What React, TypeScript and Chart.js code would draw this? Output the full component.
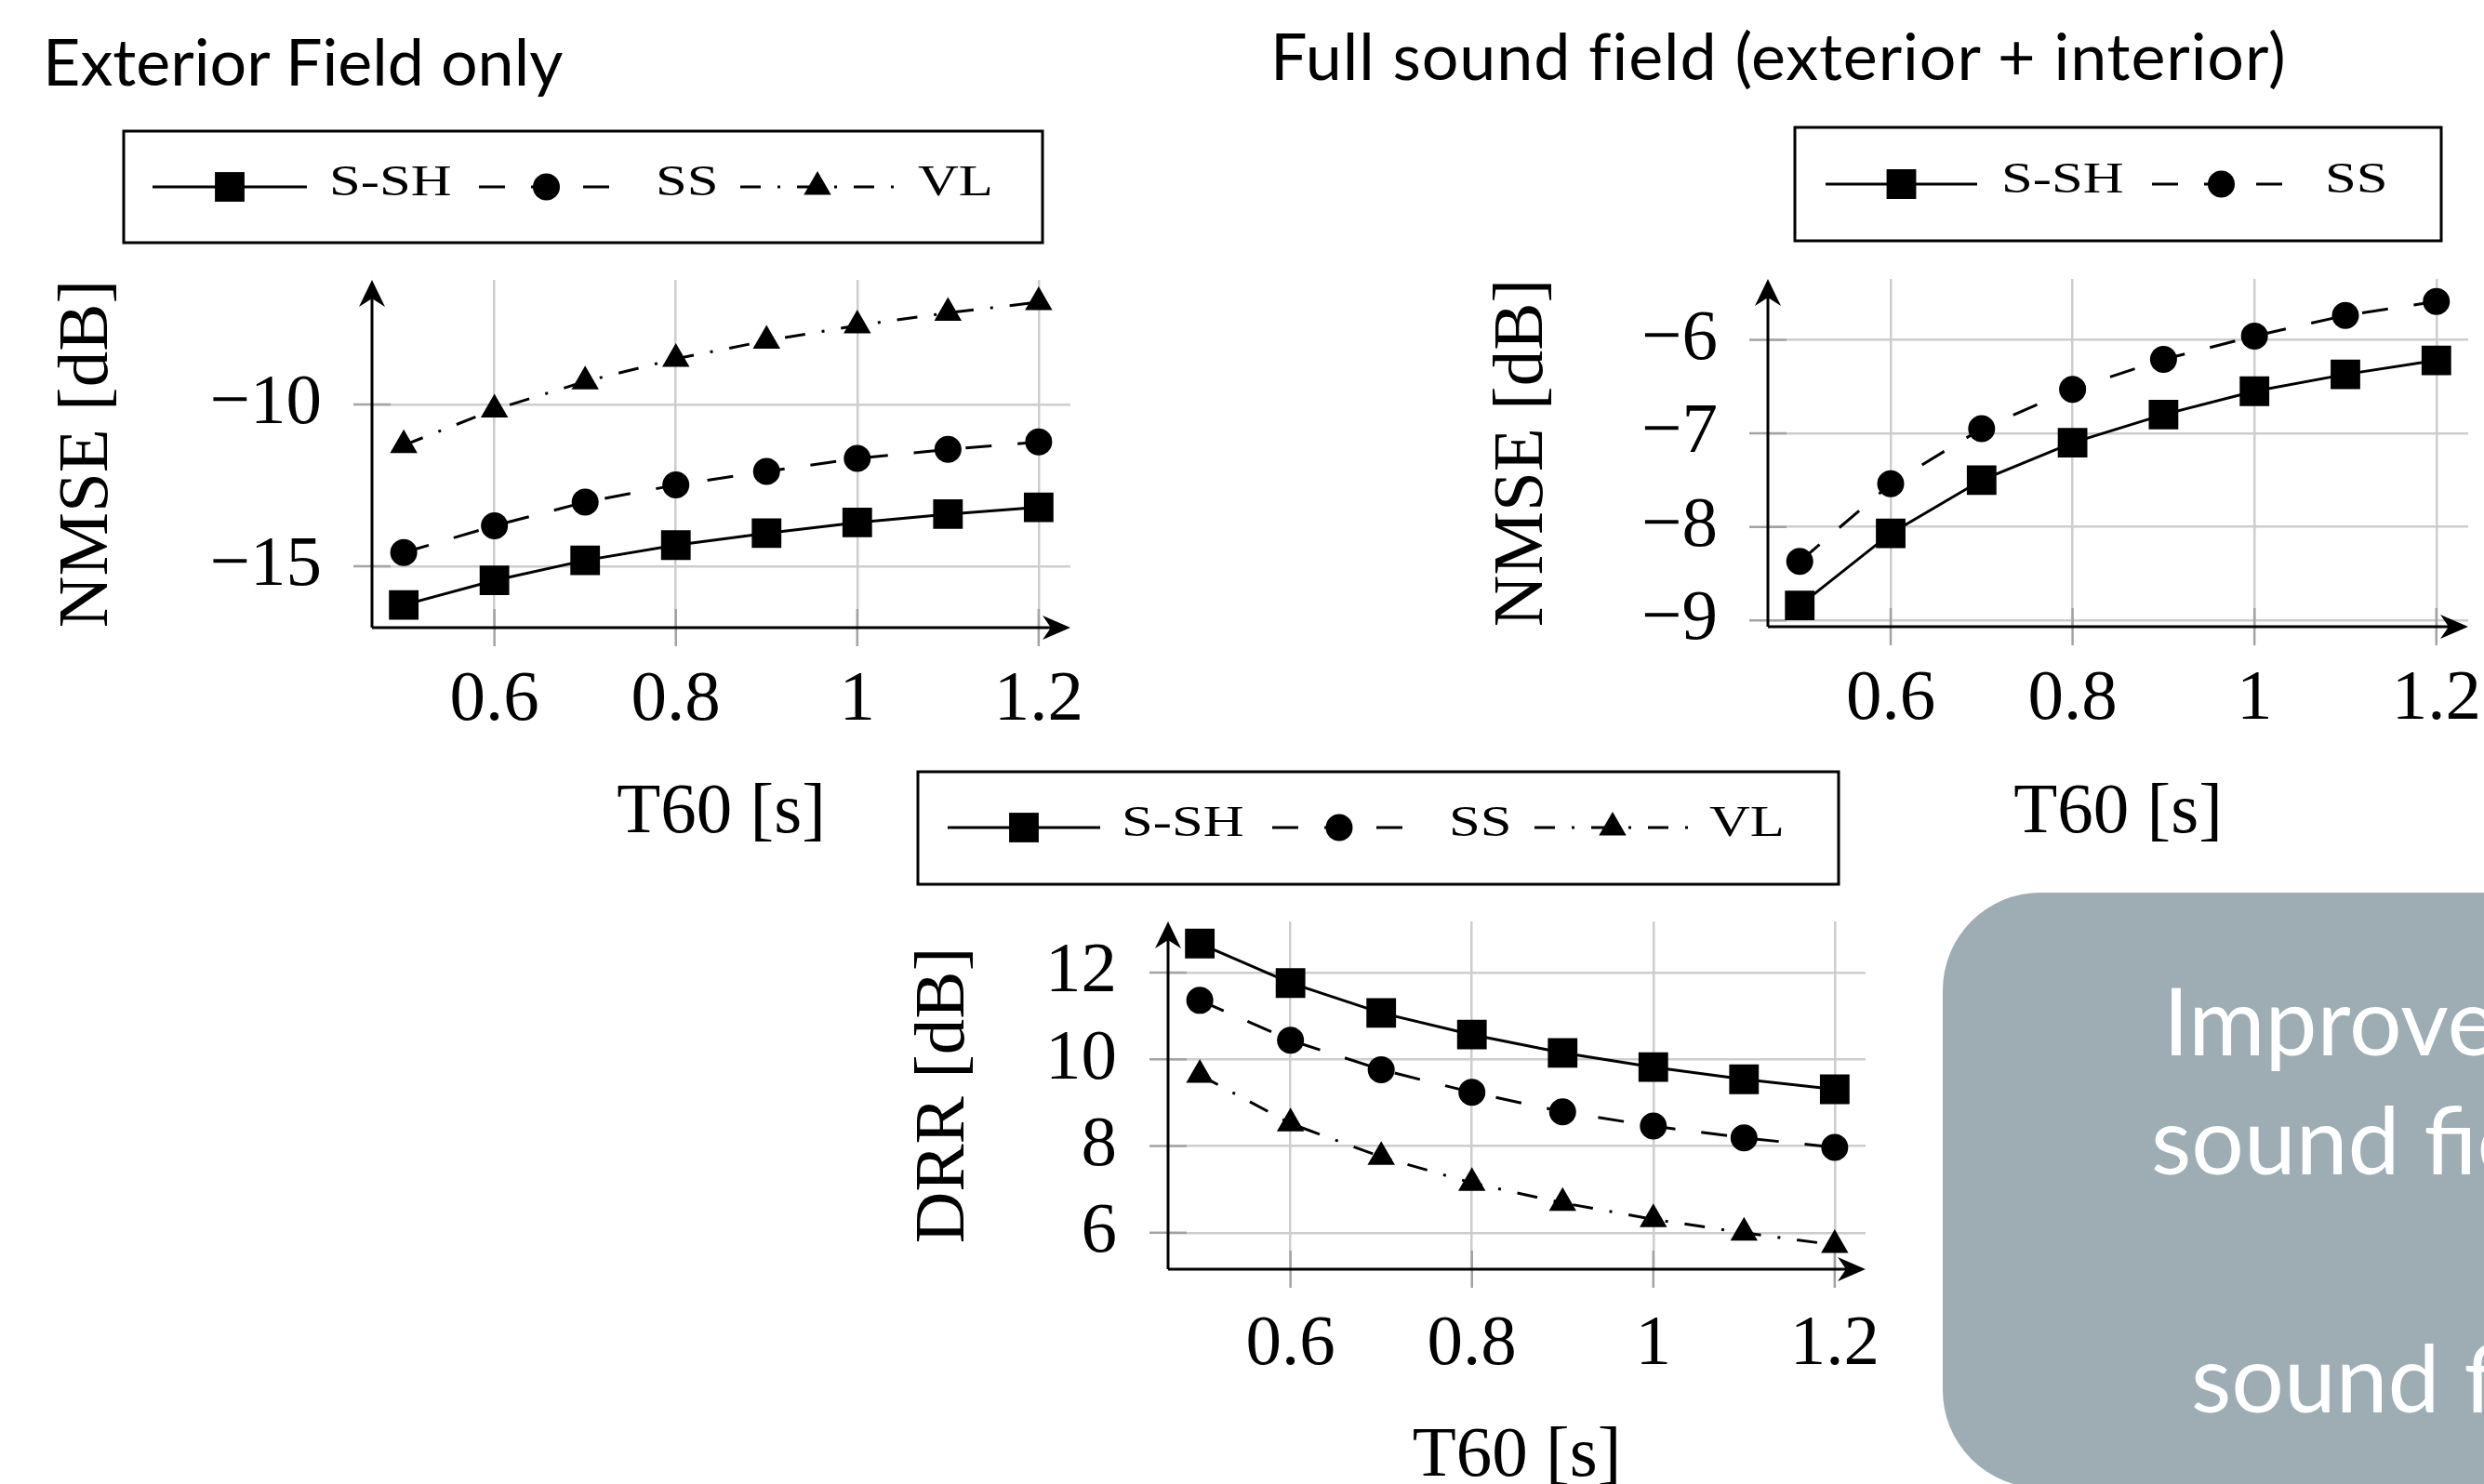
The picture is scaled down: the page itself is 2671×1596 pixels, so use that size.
import React, { useEffect, useRef } from 'react';
import { Chart, registerables } from 'chart.js';

Chart.register(...registerables);

// ---------------- data ----------------
const T60 = [0.5, 0.6, 0.7, 0.8, 0.9, 1.0, 1.1, 1.2];
const X_TICKS = [0.6, 0.8, 1.0, 1.2];

const EXT_SSH = [-16.2, -15.44, -14.82, -14.35, -13.98, -13.65, -13.39, -13.18];
const EXT_SS = [-14.58, -13.75, -13.02, -12.49, -12.07, -11.67, -11.39, -11.16];
const EXT_VL = [-11.26, -10.16, -9.29, -8.59, -8.03, -7.56, -7.17, -6.84];
const EXT_Y_TICKS = [-15, -10];

const FULL_SSH = [-8.84, -8.07, -7.5, -7.1, -6.8, -6.55, -6.37, -6.22];
const FULL_SS = [-8.37, -7.54, -6.95, -6.53, -6.21, -5.96, -5.74, -5.59];
const FULL_Y_TICKS = [-9, -8, -7, -6];

const DRR_SSH = [12.67, 11.76, 11.07, 10.57, 10.15, 9.82, 9.54, 9.31];
const DRR_SS = [11.36, 10.44, 9.76, 9.24, 8.79, 8.46, 8.19, 7.97];
const DRR_VL = [9.64, 8.52, 7.75, 7.15, 6.69, 6.31, 6.0, 5.72];
const DRR_Y_TICKS = [6, 8, 10, 12];

const TITLE_EXT = 'Exterior Field only';
const TITLE_FULL = 'Full sound field (exterior + interior)';
const BOX_LINES = ['Improved', 'sound field', '', 'sound field'];

// ---------------- styles ----------------
const SERIF = '"Liberation Serif", "DejaVu Serif", serif';
const SANS = 'Lato, "Open Sans", sans-serif';

const STYLE: Record<string, { dash: number[]; point: string; radius: number }> = {
  'S-SH': { dash: [], point: 'rect', radius: 22.5 },
  SS: { dash: [28, 28], point: 'circle', radius: 14.5 },
  VL: { dash: [22, 18, 3, 18], point: 'triangle', radius: 17 },
};

type Spec = {
  left: number; top: number; w: number; h: number;
  series: { name: string; values: number[] }[];
  yTicks: number[];
  xMin: number; xMax: number; yMin: number; yMax: number;
  pad: { left: number; top: number; right: number; bottom: number };
  yWidth: number; xHeight: number;
  yTitle: string; yTitlePad: number; xTitlePad: number;
  yTickPad: number; xTickPad: number;
  legend: { box: number[]; y: number; items: { ls: number; le: number; lx: number }[] };
};

const fmt = (v: number) => (v < 0 ? '\u2212' + String(Math.abs(v)) : String(v));

function drawMarker(ctx: CanvasRenderingContext2D, style: string, x: number, y: number, r: number) {
  ctx.beginPath();
  if (style === 'rect') {
    const s = r * Math.SQRT1_2;
    ctx.rect(x - s, y - s, 2 * s, 2 * s);
  } else if (style === 'circle') {
    ctx.arc(x, y, r, 0, Math.PI * 2);
  } else {
    for (let k = 0; k < 3; k++) {
      const a = (k * 2 * Math.PI) / 3;
      const px = x + Math.sin(a) * r;
      const py = y - Math.cos(a) * r;
      if (k === 0) ctx.moveTo(px, py);
      else ctx.lineTo(px, py);
    }
    ctx.closePath();
  }
  ctx.fill();
}

const axesPlugin = {
  id: 'pgfAxes',
  beforeDatasetsDraw(chart: any) {
    const { ctx, chartArea: ca, scales } = chart;
    const xs = scales.x;
    const ys = scales.y;
    ctx.save();
    // tick marks centred on axes
    ctx.strokeStyle = '#a3a3a3';
    ctx.lineWidth = 2.5;
    xs.ticks.forEach((t: any) => {
      const px = xs.getPixelForValue(t.value);
      ctx.beginPath();
      ctx.moveTo(px, ca.bottom - 20);
      ctx.lineTo(px, ca.bottom + 20);
      ctx.stroke();
    });
    ys.ticks.forEach((t: any) => {
      const py = ys.getPixelForValue(t.value);
      ctx.beginPath();
      ctx.moveTo(ca.left - 20, py);
      ctx.lineTo(ca.left + 20, py);
      ctx.stroke();
    });
    // axis lines
    ctx.strokeStyle = '#000';
    ctx.lineWidth = 3;
    ctx.beginPath();
    ctx.moveTo(ca.left, ca.bottom);
    ctx.lineTo(ca.right - 10, ca.bottom);
    ctx.moveTo(ca.left, ca.bottom);
    ctx.lineTo(ca.left, ca.top + 10);
    ctx.stroke();
    // arrow heads
    ctx.fillStyle = '#000';
    ctx.beginPath();
    ctx.moveTo(ca.right, ca.bottom);
    ctx.lineTo(ca.right - 30, ca.bottom - 13);
    ctx.lineTo(ca.right - 21, ca.bottom);
    ctx.lineTo(ca.right - 30, ca.bottom + 13);
    ctx.closePath();
    ctx.fill();
    ctx.beginPath();
    ctx.moveTo(ca.left, ca.top);
    ctx.lineTo(ca.left - 14, ca.top + 29);
    ctx.lineTo(ca.left, ca.top + 20);
    ctx.lineTo(ca.left + 14, ca.top + 29);
    ctx.closePath();
    ctx.fill();
    ctx.restore();
  },
};

function legendPlugin(spec: Spec) {
  return {
    id: 'boxLegend',
    afterDraw(chart: any) {
      const ctx: CanvasRenderingContext2D = chart.ctx;
      const L = spec.legend;
      const ox = spec.left;
      const oy = spec.top;
      ctx.save();
      ctx.strokeStyle = '#000';
      ctx.fillStyle = '#000';
      ctx.lineWidth = 3;
      ctx.strokeRect(L.box[0] - ox, L.box[1] - oy, L.box[2] - L.box[0], L.box[3] - L.box[1]);
      chart.data.datasets.forEach((ds: any, i: number) => {
        const it = L.items[i];
        if (!it) return;
        const y = L.y - oy;
        ctx.lineWidth = 3;
        ctx.setLineDash(ds.borderDash || []);
        ctx.beginPath();
        ctx.moveTo(it.ls - ox, y);
        ctx.lineTo(it.le - ox, y);
        ctx.stroke();
        ctx.setLineDash([]);
        drawMarker(ctx, ds.pointStyle, (it.ls + it.le) / 2 - ox, y, ds.pointRadius);
        ctx.save();
        ctx.translate(it.lx - ox, y + 9);
        ctx.scale(1.32, 1);
        ctx.font = '46px ' + SERIF;
        ctx.textBaseline = 'alphabetic';
        ctx.textAlign = 'left';
        ctx.fillText(ds.label, 0, 0);
        ctx.restore();
      });
      ctx.restore();
    },
  };
}

function buildConfig(spec: Spec): any {
  const datasets = spec.series.map((s) => {
    const st = STYLE[s.name];
    return {
      label: s.name,
      data: T60.map((x, i) => ({ x, y: s.values[i] })),
      borderColor: '#000',
      backgroundColor: '#000',
      borderWidth: 3,
      borderDash: st.dash,
      pointStyle: st.point,
      pointRadius: st.radius,
      pointBorderWidth: 0,
      pointBackgroundColor: '#000',
      tension: 0,
      fill: false,
    };
  });
  return {
    type: 'line',
    data: { datasets },
    plugins: [axesPlugin, legendPlugin(spec)],
    options: {
      animation: false,
      responsive: false,
      devicePixelRatio: 1,
      layout: { padding: spec.pad },
      plugins: { legend: { display: false }, tooltip: { enabled: false } },
      scales: {
        x: {
          type: 'linear',
          min: spec.xMin,
          max: spec.xMax,
          afterBuildTicks: (s: any) => {
            s.ticks = X_TICKS.map((v) => ({ value: v }));
          },
          afterFit: (s: any) => {
            s.height = spec.xHeight;
          },
          grid: { color: '#cdcdcd', lineWidth: 2.5, drawTicks: false },
          border: { display: false },
          ticks: {
            font: { family: SERIF, size: 77 },
            color: '#000',
            padding: spec.xTickPad,
            maxRotation: 0,
            autoSkip: false,
            callback: (v: any) => fmt(Number(v)),
          },
          title: {
            display: true,
            text: 'T60 [s]',
            color: '#000',
            font: { family: SERIF, size: 77, lineHeight: 1 },
            padding: { top: 0, bottom: spec.xTitlePad },
          },
        },
        y: {
          type: 'linear',
          min: spec.yMin,
          max: spec.yMax,
          afterBuildTicks: (s: any) => {
            s.ticks = spec.yTicks.map((v) => ({ value: v }));
          },
          afterFit: (s: any) => {
            s.width = spec.yWidth;
          },
          grid: { color: '#cdcdcd', lineWidth: 2.5, drawTicks: false },
          border: { display: false },
          ticks: {
            font: { family: SERIF, size: 77 },
            color: '#000',
            padding: spec.yTickPad,
            autoSkip: false,
            callback: (v: any) => fmt(Number(v)),
          },
          title: {
            display: true,
            text: spec.yTitle,
            color: '#000',
            font: { family: SERIF, size: 77, lineHeight: 1 },
            padding: { top: spec.yTitlePad, bottom: 0 },
          },
        },
      },
    },
  };
}

// ---------------- chart specs ----------------
const EXT_SPEC: Spec = {
  left: 0, top: 120, w: 1260, h: 820,
  series: [
    { name: 'S-SH', values: EXT_SSH },
    { name: 'SS', values: EXT_SS },
    { name: 'VL', values: EXT_VL },
  ],
  yTicks: EXT_Y_TICKS,
  xMin: 0.465, xMax: 1.235, yMin: -16.9, yMax: -6.15,
  pad: { left: 0, top: 181, right: 109, bottom: 0 },
  yWidth: 400, xHeight: 265,
  yTitle: 'NMSE [dB]', yTitlePad: 56, xTitlePad: 27,
  yTickPad: 54, xTickPad: 33,
  legend: {
    box: [133, 141, 1121, 261], y: 201,
    items: [
      { ls: 164, le: 330, lx: 354 },
      { ls: 515, le: 660, lx: 705 },
      { ls: 796, le: 962, lx: 987 },
    ],
  },
};

const FULL_SPEC: Spec = {
  left: 1300, top: 120, w: 1420, h: 820,
  series: [
    { name: 'S-SH', values: FULL_SSH },
    { name: 'SS', values: FULL_SS },
  ],
  yTicks: FULL_Y_TICKS,
  xMin: 0.465, xMax: 1.235, yMin: -9.067, yMax: -5.35,
  pad: { left: 0, top: 180, right: 66, bottom: 0 },
  yWidth: 601, xHeight: 266,
  yTitle: 'NMSE [dB]', yTitlePad: 299, xTitlePad: 27,
  yTickPad: 54, xTickPad: 33,
  legend: {
    box: [1930, 137, 2625, 259], y: 198,
    items: [
      { ls: 1963, le: 2126, lx: 2152 },
      { ls: 2314, le: 2463, lx: 2500 },
    ],
  },
};

const DRR_SPEC: Spec = {
  left: 900, top: 800, w: 1160, h: 820,
  series: [
    { name: 'S-SH', values: DRR_SSH },
    { name: 'SS', values: DRR_SS },
    { name: 'VL', values: DRR_VL },
  ],
  yTicks: DRR_Y_TICKS,
  xMin: 0.465, xMax: 1.234, yMin: 5.16, yMax: 13.18,
  pad: { left: 0, top: 191, right: 54, bottom: 0 },
  yWidth: 356, xHeight: 255,
  yTitle: 'DRR [dB]', yTitlePad: 77, xTitlePad: 15,
  yTickPad: 55, xTickPad: 36,
  legend: {
    box: [987, 830, 1977, 951], y: 890,
    items: [
      { ls: 1019, le: 1183, lx: 1206 },
      { ls: 1368, le: 1512, lx: 1558 },
      { ls: 1650, le: 1818, lx: 1838 },
    ],
  },
};

function ChartCanvas({ spec }: { spec: Spec }) {
  const ref = useRef<HTMLCanvasElement>(null);
  useEffect(() => {
    if (!ref.current) return;
    const chart = new Chart(ref.current, buildConfig(spec));
    return () => chart.destroy();
  }, [spec]);
  return (
    <canvas
      ref={ref}
      width={spec.w}
      height={spec.h}
      style={{ position: 'absolute', left: spec.left, top: spec.top, width: spec.w, height: spec.h }}
    />
  );
}

export default function App() {
  const titleStyle: React.CSSProperties = {
    position: 'absolute',
    fontFamily: SANS,
    fontSize: 70,
    lineHeight: '70px',
    color: '#000',
    whiteSpace: 'nowrap',
  };
  const boxLine: React.CSSProperties = {
    position: 'absolute',
    fontFamily: SANS,
    fontSize: 100,
    lineHeight: '100px',
    color: '#fff',
    whiteSpace: 'nowrap',
  };
  return (
    <div
      style={{
        position: 'fixed',
        left: 0,
        top: 0,
        width: 2671,
        height: 1596,
        overflow: 'hidden',
        background: '#fff',
      }}
    >
      <div style={{ ...titleStyle, left: 46, top: 30 }}>{TITLE_EXT}</div>
      <div style={{ ...titleStyle, left: 1366, top: 24, letterSpacing: '0.9px' }}>{TITLE_FULL}</div>
      <ChartCanvas spec={EXT_SPEC} />
      <ChartCanvas spec={FULL_SPEC} />
      <ChartCanvas spec={DRR_SPEC} />
      <div
        style={{
          position: 'absolute',
          left: 2089,
          top: 960,
          width: 800,
          height: 640,
          borderRadius: 105,
          background: '#9dadb3',
        }}
      />
      <div style={{ ...boxLine, left: 2326, top: 1046 }}>{BOX_LINES[0]}</div>
      <div style={{ ...boxLine, left: 2313, top: 1174 }}>{BOX_LINES[1]}</div>
      <div style={{ ...boxLine, left: 2356, top: 1430 }}>{BOX_LINES[3]}</div>
    </div>
  );
}
